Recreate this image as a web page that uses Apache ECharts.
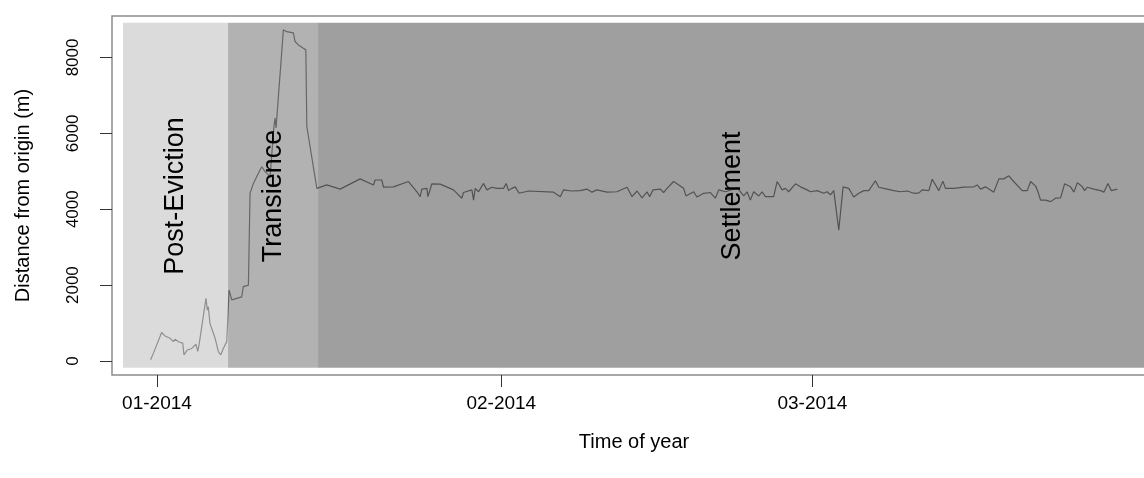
<!DOCTYPE html>
<html>
<head>
<meta charset="utf-8">
<script src="https://cdn.jsdelivr.net/npm/echarts@6/dist/echarts.min.js"></script>
<style>
  html, body { margin: 0; padding: 0; background: #fff; }
  #main { width: 1144px; height: 478px; }
</style>
</head>
<body>
<div id="main"></div>
<script>
// days since 01-01-2014
var days = [-0.57,-0.33,0.42,0.72,1.17,1.47,1.62,1.98,2.32,2.43,2.73,3.13,3.51,3.67,3.81,4.41,4.53,4.62,4.77,5.23,
            5.52,5.74,5.97,6.28,6.49,6.73,7.63,7.77,8.23,8.38,8.68,9.13,9.43,9.73,10.18,10.54,10.63,10.72,11.38,11.68,
            12.28,12.43,12.73,13.18,13.40,13.49,14.39,15.29,16.49,18.29,19.49,19.64,20.24,20.39,21.29,22.64,23.40,23.69,23.85,24.30,
            24.39,24.75,25.50,26.69,27.45,27.59,28.35,28.50,28.65,28.95,29.40,29.70,30.15,30.60,31.20,31.44,31.65,31.95,32.25,32.60,
            33.45,35.70,36.31,36.60,37.36,38.11,38.71,39.16,39.61,40.51,41.41,42.32,42.77,43.22,43.67,44.12,44.35,44.66,45.32,45.61,
            45.92,46.51,47.41,47.63,48.32,48.62,49.22,49.82,50.27,50.57,51.17,52.25,52.82,53.13,53.42,53.72,54.17,54.48,54.77,55.52,
            55.83,56.28,56.58,56.87,57.48,57.93,58.53,58.83,59.43,60.03,60.33,60.63,60.93,61.38,61.77,62.28,62.73,63.18,63.63,64.08,
            64.68,64.98,65.43,66.33,66.94,67.54,68.14,68.60,68.89,69.49,69.79,70.39,70.75,70.99,71.74,72.64,73.54,73.85,74.14,74.59,
            75.34,75.79,76.24,76.69,77.00,77.90,78.35,78.65,79.10,79.31,79.55,80.00,80.45,80.90,81.35,81.71,82.25,82.55,82.86,83.31,
            83.51,83.76,84.35,84.95,85.25,85.61,85.92,86.46];
// distance from origin (m)
var distance = [30,200,750,660,600,510,570,500,470,160,290,330,440,250,470,1650,1340,1430,990,600,
                250,160,330,510,1870,1610,1690,1960,2000,4420,4680,4950,5120,4990,4860,6220,6400,6140,8730,8680,
                8650,8420,8330,8240,8200,6180,4550,4640,4530,4800,4640,4770,4770,4580,4590,4730,4460,4330,4530,4550,
                4330,4670,4660,4510,4290,4440,4510,4240,4550,4460,4680,4510,4580,4550,4550,4680,4490,4550,4590,4420,
                4480,4450,4330,4510,4480,4490,4530,4450,4510,4450,4460,4580,4330,4480,4300,4460,4330,4510,4530,4440,
                4550,4730,4550,4350,4460,4320,4420,4440,4290,4510,4460,4560,4350,4460,4240,4460,4350,4460,4330,4330,
                4730,4510,4550,4460,4670,4590,4510,4460,4490,4420,4460,4380,4490,3450,4590,4550,4320,4420,4490,4490,
                4750,4580,4550,4490,4460,4480,4420,4430,4510,4490,4790,4490,4740,4550,4550,4580,4590,4640,4530,4590,
                4450,4800,4800,4880,4770,4490,4490,4730,4610,4460,4240,4240,4200,4290,4300,4670,4590,4450,4700,4590,
                4490,4580,4530,4490,4450,4680,4490,4530];

var regionNames = ['Post-Eviction', 'Transience', 'Settlement'];
var regionStart = [-3.06, 6.40, 14.50];
var regionEnd = [6.40, 14.50, 89.10];
var shadeRange = [-177, 8918];

var monthTicks = [0, 31, 59];
var monthLabels = ['01-2014', '02-2014', '03-2014'];
var distTicks = [0, 2000, 4000, 6000, 8000];

var chart = echarts.init(document.getElementById('main'));

var lineData = days.map(function (d, i) { return [d, distance[i]]; });
var regionData = regionNames.map(function (n, i) { return [regionStart[i], regionEnd[i], i]; });
var regionFill = ['rgba(204,204,204,0.7)', 'rgba(146,146,146,0.7)', 'rgba(118,118,118,0.7)'];
var fontFam = 'Liberation Sans, Arial, Helvetica, sans-serif';

var option = {
    animation: false,
    backgroundColor: '#fff',
    grid: {
        left: 112,
        right: -12,
        top: 16,
        bottom: 103,
        show: true,
        borderColor: '#8c8c8c',
        borderWidth: 1.5,
        backgroundColor: 'transparent',
        containLabel: false,
        outerBoundsMode: 'none'
    },
    xAxis: {
        type: 'value',
        min: -4.05,
        max: 89.94,
        name: 'Time of year',
        nameLocation: 'middle',
        nameGap: 57,
        nameTextStyle: { fontSize: 20, color: '#000', fontFamily: fontFam },
        axisLine: { show: false, onZero: false },
        splitLine: { show: false },
        axisTick: {
            show: true,
            length: 12,
            lineStyle: { color: '#333' },
            customValues: monthTicks
        },
        axisLabel: {
            fontSize: 19,
            color: '#000',
            fontFamily: fontFam,
            margin: 19,
            customValues: monthTicks,
            formatter: function (v) {
                var k = monthTicks.indexOf(Math.round(v));
                return k >= 0 ? monthLabels[k] : '';
            }
        }
    },
    yAxis: {
        type: 'value',
        min: -370,
        max: 9093,
        name: 'Distance from origin (m)',
        nameLocation: 'middle',
        nameGap: 79,
        nameTextStyle: { fontSize: 20, color: '#000', fontFamily: fontFam },
        axisLine: { show: false, onZero: false },
        splitLine: { show: false },
        axisTick: {
            show: true,
            length: 12,
            lineStyle: { color: '#333' },
            customValues: distTicks
        },
        axisLabel: {
            fontSize: 17,
            color: '#000',
            fontFamily: fontFam,
            rotate: 90,
            margin: 30,
            customValues: distTicks,
            formatter: function (v) { return String(v); }
        }
    },
    series: [
        {
            type: 'line',
            data: lineData,
            showSymbol: false,
            z: 2,
            lineStyle: { color: '#000', width: 1.2 }
        },
        {
            type: 'custom',
            z: 3,
            data: regionData,
            renderItem: function (params, api) {
                var i = api.value(2);
                var p0 = api.coord([api.value(0), shadeRange[1]]);
                var p1 = api.coord([api.value(1), shadeRange[0]]);
                var pc = api.coord([(api.value(0) + api.value(1)) / 2, 4350]);
                return {
                    type: 'group',
                    children: [
                        {
                            type: 'rect',
                            shape: { x: p0[0], y: p0[1], width: p1[0] - p0[0], height: p1[1] - p0[1] },
                            style: { fill: regionFill[i] }
                        },
                        {
                            type: 'text',
                            x: pc[0],
                            y: pc[1],
                            rotation: Math.PI / 2,
                            style: {
                                text: regionNames[i],
                                fontSize: 27,
                                fontFamily: fontFam,
                                fill: '#000',
                                align: 'center',
                                verticalAlign: 'middle'
                            }
                        }
                    ]
                };
            }
        }
    ]
};

chart.setOption(option);
</script>
</body>
</html>
